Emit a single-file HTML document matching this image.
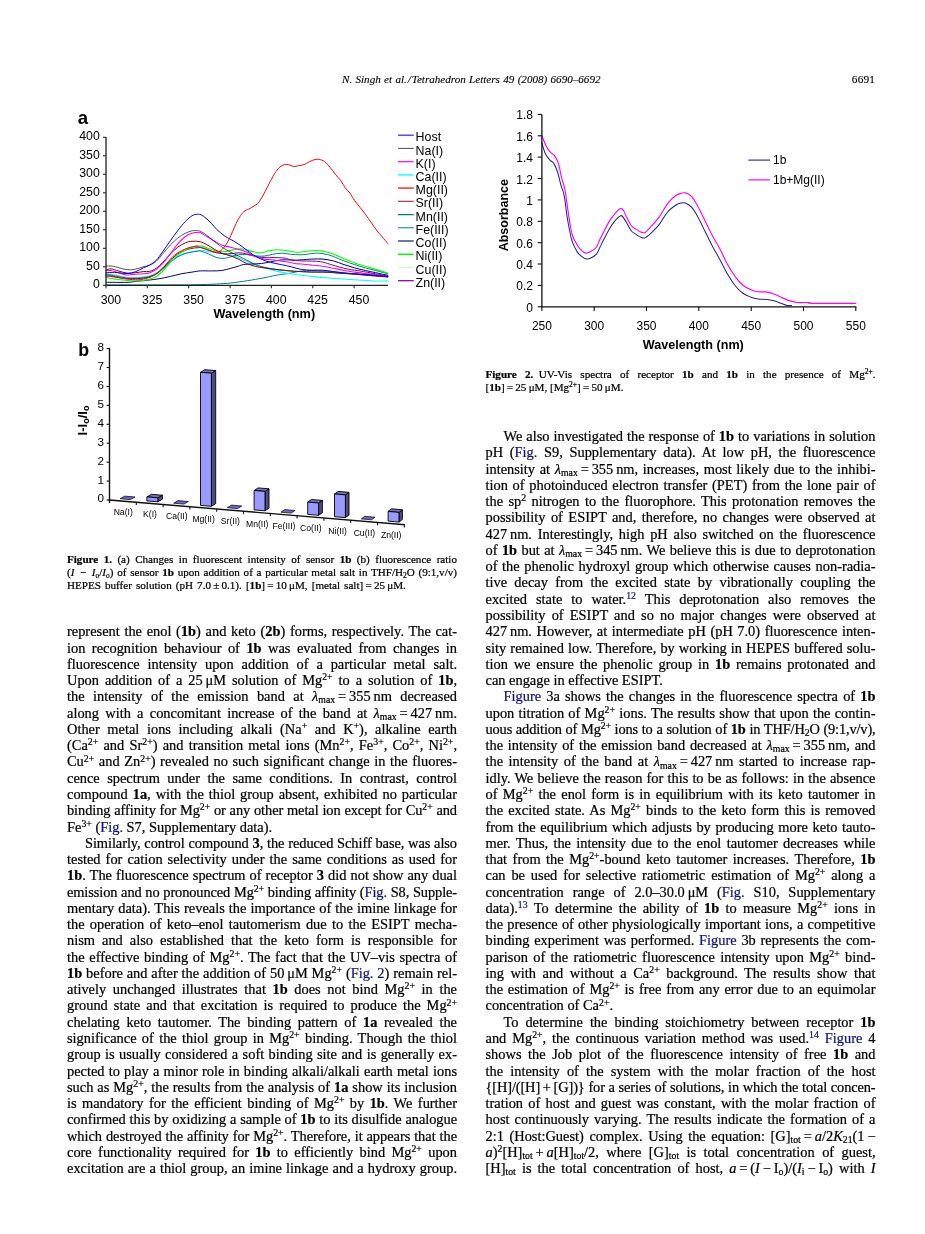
<!DOCTYPE html>
<html><head><meta charset="utf-8"><title>Tetrahedron Letters 49 (2008) 6691</title>
<style>
html,body{margin:0;padding:0;background:#fff;}
body{width:925px;height:1234px;position:relative;overflow:hidden;font-family:"Liberation Serif",serif;color:#000;-webkit-text-stroke-width:0.22px;}
.t,.c,.h{position:absolute;white-space:nowrap;text-align:justify;text-align-last:justify;}
.t{font-size:14.4px;line-height:16.27px;height:16.27px;}
.c{font-size:11.1px;line-height:13.45px;height:13.45px;-webkit-text-stroke-width:0.22px;}
.e{text-align:left;text-align-last:left;}
.h{font-size:11.1px;line-height:13px;text-align-last:left;-webkit-text-stroke-width:0.12px;}
.k{color:#12127c;}
.sp{display:inline-block;width:5.4px;}
sup,sub{font-size:68%;line-height:0;position:relative;vertical-align:baseline;}
sup{top:-0.5em;}
sub{top:0.22em;}
svg{position:absolute;overflow:visible;}
svg text{font-family:"Liberation Sans",sans-serif;fill:#000;}
#w{position:absolute;left:0;top:0;width:925px;height:1234px;will-change:transform;}
</style></head><body><div id="w">
<div class="h" id="hd" style="left:342px;top:72.6px;width:258.5px;text-align-last:justify;"><i>N. Singh et al. / Tetrahedron Letters 49 (2008) 6690–6692</i></div>
<div class="h" id="pg" style="left:851.8px;top:72.9px;font-size:11.3px;letter-spacing:0.2px;">6691</div>
<svg id="ca" style="left:0;top:0" width="470" height="330" viewBox="0 0 470 330">
<g fill="none" stroke-linejoin="round" stroke-linecap="round">
<path d="M106.0 275.0C107.7 275.2 112.4 275.9 115.9 276.4C119.4 276.9 123.4 277.7 127.0 277.9C130.6 278.2 133.8 278.2 137.4 277.9C141.0 277.7 145.5 277.2 148.7 276.4C151.8 275.6 153.9 274.6 156.3 273.1C158.6 271.6 160.4 269.8 162.7 267.6C165.1 265.3 168.0 261.8 170.5 259.4C173.0 257.1 175.3 255.1 177.8 253.5C180.3 251.9 183.0 250.8 185.4 249.8C187.8 248.9 189.8 248.3 192.0 248.0C194.2 247.6 195.9 247.3 198.6 247.6C201.4 247.9 205.5 249.0 208.5 249.8C211.6 250.7 213.8 252.0 216.8 252.8C219.9 253.5 223.2 254.1 226.7 254.3C230.3 254.4 235.0 253.5 238.3 253.5C241.6 253.5 243.7 253.9 246.6 254.3C249.5 254.6 252.7 255.4 255.7 255.7C258.7 256.1 261.6 256.4 264.8 256.5C268.0 256.5 271.1 256.1 274.7 256.1C278.3 256.1 281.9 256.2 286.3 256.5C290.7 256.8 296.8 257.8 301.2 258.0C305.6 258.1 309.2 257.5 312.8 257.6C316.3 257.7 319.3 258.1 322.7 258.7C326.1 259.3 329.7 259.9 333.3 260.9C336.8 261.9 340.6 263.5 344.2 264.6C347.7 265.7 351.0 266.6 354.6 267.6C358.2 268.5 362.2 269.3 365.7 270.2C369.2 271.0 371.9 271.6 375.6 272.4C379.3 273.2 385.8 274.5 387.8 275.0" stroke="#ccffcc" stroke-width="0.9"/>
<path d="M106.0 284.9C117.0 284.9 157.3 285.0 172.2 284.9C187.0 284.9 187.9 284.9 195.3 284.7C202.8 284.6 211.0 284.3 216.8 284.0C222.6 283.7 225.6 283.5 230.1 283.1C234.5 282.6 238.3 282.0 243.3 281.3C248.2 280.6 254.4 279.6 259.8 278.6C265.3 277.7 271.6 276.1 276.0 275.3C280.4 274.5 283.9 274.2 286.3 273.8C288.7 273.5 288.1 273.6 290.6 273.1C293.1 272.6 297.6 271.5 301.2 271.0C304.7 270.6 308.3 270.5 311.9 270.5C315.5 270.5 319.1 270.7 322.7 270.9C326.2 271.1 327.9 271.1 333.3 271.6C338.6 272.1 347.5 273.2 354.6 273.8C361.7 274.5 370.1 274.8 375.6 275.3C381.1 275.8 385.8 276.7 387.8 277.0" stroke="#008080" stroke-width="1.0"/>
<path d="M106.0 273.8C107.7 274.1 112.4 274.8 115.9 275.3C119.4 275.9 123.4 276.8 127.0 277.2C130.6 277.5 133.8 277.7 137.4 277.5C141.0 277.4 145.5 276.8 148.7 276.1C151.8 275.3 153.9 274.4 156.3 273.1C158.6 271.8 160.4 270.2 162.7 268.3C165.1 266.4 168.0 263.6 170.5 261.7C173.0 259.7 175.3 257.9 177.8 256.5C180.3 255.1 183.0 254.0 185.4 253.2C187.8 252.4 190.1 252.0 192.0 251.7C193.9 251.3 195.3 251.2 197.0 250.9C198.6 250.7 199.9 250.1 201.9 250.3C204.0 250.4 206.9 251.4 209.4 251.8C211.9 252.2 214.3 252.4 216.8 252.8C219.3 253.2 221.7 253.7 224.4 254.3C227.1 254.8 230.2 255.1 233.0 255.9C235.9 256.7 238.9 258.1 241.6 259.1C244.3 260.2 246.5 261.3 249.2 262.4C251.9 263.5 254.7 264.6 257.8 265.7C261.0 266.8 264.2 267.8 268.1 268.9C272.0 269.9 277.6 271.3 281.3 272.1C285.1 272.9 287.3 273.3 290.6 273.8C293.9 274.4 297.6 274.9 301.2 275.3C304.7 275.8 308.3 276.1 311.9 276.4C315.5 276.8 319.1 277.2 322.7 277.5C326.2 277.9 327.9 278.0 333.3 278.4C338.6 278.8 347.5 279.3 354.6 279.8C361.7 280.2 370.1 280.8 375.6 281.0C381.1 281.2 385.8 280.9 387.8 280.9" stroke="#00ffff" stroke-width="1.1"/>
<path d="M106.0 282.3C109.5 282.3 121.8 282.5 127.0 282.3C132.2 282.2 133.8 281.6 137.4 281.2C141.0 280.9 145.1 280.5 148.7 280.1C152.3 279.7 155.3 279.4 158.9 278.8C162.6 278.2 166.8 277.3 170.5 276.4C174.2 275.6 177.5 274.6 181.1 273.8C184.7 273.1 188.8 272.6 192.0 272.1C195.2 271.6 197.0 271.1 200.3 270.9C203.5 270.7 207.9 271.0 211.5 270.9C215.1 270.8 218.6 271.0 221.8 270.5C225.0 270.1 228.1 269.0 230.9 268.3C233.6 267.6 236.3 266.8 238.3 266.2C240.4 265.5 240.9 265.0 243.3 264.6C245.6 264.3 249.3 264.2 252.4 264.0C255.4 263.8 258.4 263.9 261.5 263.5C264.5 263.1 267.6 262.4 270.6 261.8C273.5 261.3 276.6 260.5 279.2 260.2C281.8 259.8 283.7 259.8 286.3 259.8C288.8 259.8 292.1 260.2 294.6 260.2C297.0 260.2 298.3 260.0 301.2 259.8C304.1 259.6 308.3 259.3 311.9 259.1C315.5 259.0 319.1 258.8 322.7 259.1C326.2 259.4 329.7 260.0 333.3 260.9C336.8 261.8 340.5 263.4 344.0 264.6C347.6 265.8 351.0 266.9 354.6 267.9C358.2 268.9 361.8 269.7 365.3 270.5C368.8 271.3 371.9 271.9 375.6 272.7C379.4 273.5 385.8 274.9 387.8 275.3" stroke="#000080" stroke-width="1.0"/>
<path d="M106.0 274.2C107.7 274.5 112.4 275.4 115.9 276.1C119.4 276.7 123.4 277.7 127.0 278.1C130.6 278.4 133.8 278.5 137.4 278.3C141.0 278.1 145.5 277.5 148.7 276.8C151.8 276.1 153.9 275.1 156.3 273.8C158.6 272.6 160.4 271.0 162.7 269.0C165.1 267.1 168.0 264.1 170.5 262.0C173.0 260.0 175.3 258.3 177.8 256.8C180.3 255.4 183.0 254.3 185.4 253.5C187.8 252.7 190.1 252.4 192.0 252.0C193.9 251.7 195.6 251.5 197.0 251.3C198.3 251.1 198.3 250.6 200.3 251.0C202.2 251.5 205.8 252.8 208.5 253.9C211.3 255.0 214.2 256.8 216.8 257.6C219.5 258.3 222.2 258.4 224.4 258.3C226.6 258.2 227.7 257.5 230.1 257.0C232.4 256.4 235.6 255.2 238.3 254.8C241.1 254.4 243.7 254.5 246.6 254.6C249.5 254.8 252.8 255.6 255.7 255.9C258.6 256.1 261.3 256.4 264.1 256.1C267.0 255.8 269.9 254.8 272.7 254.3C275.6 253.8 278.3 253.2 281.3 253.2C284.3 253.2 287.3 254.0 290.6 254.3C293.9 254.5 297.6 254.9 301.2 254.8C304.7 254.7 309.1 253.8 311.9 253.5C314.8 253.2 316.0 253.0 318.4 253.2C320.7 253.3 323.5 253.7 326.0 254.3C328.5 254.8 330.3 255.4 333.3 256.5C336.3 257.6 340.5 259.6 344.0 260.9C347.6 262.3 351.0 263.4 354.6 264.6C358.2 265.8 361.8 266.9 365.3 267.9C368.8 268.9 371.9 269.5 375.6 270.5C379.4 271.5 385.8 273.3 387.8 273.8" stroke="#008080" stroke-width="1.0"/>
<path d="M106.0 275.7C107.7 275.9 112.4 276.7 115.9 277.2C119.4 277.7 123.4 278.4 127.0 278.6C130.6 278.9 133.8 278.9 137.4 278.6C141.0 278.4 145.5 278.0 148.7 277.2C151.8 276.4 153.9 275.3 156.3 273.8C158.6 272.4 160.4 270.6 162.7 268.3C165.1 266.0 168.0 262.6 170.5 260.2C173.0 257.8 175.3 255.6 177.8 253.9C180.3 252.2 183.0 251.1 185.4 250.2C187.8 249.3 190.1 248.8 192.0 248.4C193.9 247.9 195.3 247.9 197.0 247.8C198.6 247.7 199.9 247.3 201.9 247.8C204.0 248.3 206.9 249.7 209.4 250.6C211.9 251.4 213.8 252.2 216.8 252.8C219.9 253.3 224.2 253.9 227.7 253.9C231.3 253.9 235.2 252.8 238.3 252.8C241.5 252.8 243.7 253.3 246.6 253.9C249.5 254.5 252.8 255.9 255.7 256.5C258.6 257.1 260.7 257.4 264.1 257.6C267.5 257.8 272.3 257.5 276.0 257.6C279.7 257.7 283.9 258.0 286.3 258.3C288.7 258.7 288.1 259.4 290.6 259.8C293.1 260.2 297.6 260.7 301.2 260.9C304.7 261.1 308.7 261.0 311.9 261.1C315.1 261.2 317.9 261.3 320.5 261.7C323.1 262.1 324.6 262.6 327.6 263.5C330.6 264.4 335.0 265.8 338.6 266.8C342.1 267.8 345.6 268.7 349.1 269.4C352.7 270.1 355.6 270.3 360.1 271.0C364.5 271.8 371.0 273.0 375.6 273.8C380.2 274.7 385.8 275.7 387.8 276.1" stroke="#800080" stroke-width="1.0"/>
<path d="M106.0 277.5C107.7 277.8 112.4 278.6 115.9 279.1C119.4 279.6 123.4 280.2 127.0 280.5C130.6 280.8 133.8 281.1 137.4 280.9C141.0 280.7 145.5 280.1 148.7 279.4C151.8 278.6 153.9 277.8 156.3 276.4C158.6 275.0 160.4 273.4 162.7 271.0C165.1 268.7 168.0 265.1 170.5 262.4C173.0 259.7 175.3 256.9 177.8 254.8C180.3 252.7 183.0 251.2 185.4 249.9C187.8 248.7 190.1 247.9 192.0 247.2C193.9 246.6 195.3 246.3 197.0 246.1C198.6 245.9 200.0 245.8 201.9 246.1C203.9 246.5 206.1 247.5 208.5 248.4C211.0 249.2 214.2 250.5 216.8 251.0C219.5 251.6 221.7 251.9 224.4 251.7C227.1 251.5 230.3 250.4 233.0 249.9C235.7 249.5 238.4 248.9 240.6 248.9C242.9 248.9 244.3 249.4 246.6 249.9C248.9 250.5 252.1 251.6 254.5 252.0C256.9 252.5 258.7 253.0 261.0 252.8C263.2 252.6 265.4 251.5 268.1 251.0C270.8 250.6 274.0 249.9 277.0 249.8C280.1 249.7 283.4 250.2 286.3 250.6C289.2 250.9 292.1 251.8 294.6 252.0C297.0 252.3 298.3 252.3 301.2 252.0C304.1 251.8 309.1 251.0 311.9 250.7C314.8 250.5 316.1 250.4 318.4 250.6C320.7 250.7 323.3 251.1 325.8 251.7C328.3 252.2 330.2 252.7 333.3 253.9C336.3 255.1 340.5 257.2 344.0 258.7C347.6 260.2 351.0 261.7 354.6 262.9C358.2 264.2 361.8 265.1 365.3 266.2C368.9 267.2 372.2 268.3 375.9 269.4C379.7 270.6 385.9 272.5 387.8 273.1" stroke="#00ff00" stroke-width="1.1"/>
<path d="M106.0 270.0C106.8 269.8 108.9 268.7 111.0 268.9C113.0 269.0 115.7 270.3 118.4 271.0C121.1 271.7 124.1 272.8 127.0 273.1C129.9 273.4 133.1 273.0 135.8 272.7C138.5 272.5 140.9 271.9 143.2 271.6C145.6 271.4 147.7 271.8 149.8 271.3C152.0 270.7 154.1 269.8 156.3 268.3C158.4 266.8 160.4 264.8 162.7 262.4C165.1 260.0 168.0 256.4 170.5 253.9C173.0 251.4 175.3 249.1 177.8 247.2C180.3 245.4 183.0 243.8 185.4 242.8C187.8 241.8 189.5 241.5 192.0 241.3C194.5 241.1 197.8 241.1 200.3 241.7C202.8 242.3 204.5 243.4 206.9 244.7C209.3 245.9 212.4 248.0 214.8 249.5C217.3 250.9 219.2 252.1 221.8 253.2C224.3 254.2 227.3 254.8 230.1 255.7C232.8 256.7 235.6 257.8 238.3 259.1C241.1 260.4 243.7 262.3 246.6 263.5C249.5 264.7 252.8 265.7 255.7 266.5C258.6 267.2 260.7 267.4 264.1 267.9C267.5 268.4 272.3 269.0 276.0 269.4C279.7 269.8 283.2 270.2 286.3 270.5C289.4 270.8 292.1 271.1 294.6 271.3C297.0 271.4 298.3 271.5 301.2 271.6C304.1 271.8 308.3 272.0 311.9 272.1C315.5 272.2 319.1 272.0 322.7 272.1C326.2 272.2 327.9 272.4 333.3 272.7C338.6 273.1 347.5 273.7 354.6 274.2C361.7 274.8 370.1 275.6 375.6 276.1C381.1 276.5 385.8 276.8 387.8 277.0" stroke="#800000" stroke-width="1.0"/>
<path d="M106.0 270.5C106.8 270.5 108.9 270.2 111.0 270.5C113.0 270.9 115.7 272.0 118.4 272.7C121.1 273.5 124.1 274.7 127.0 275.0C129.9 275.2 133.1 274.4 135.8 274.2C138.5 274.0 140.9 274.1 143.2 273.8C145.6 273.6 147.7 273.5 149.8 272.7C152.0 272.0 154.1 271.0 156.3 269.4C158.4 267.9 160.4 266.1 162.7 263.5C165.1 260.9 167.8 257.2 170.3 253.9C172.8 250.6 175.3 246.8 177.8 243.9C180.3 241.0 183.0 238.3 185.4 236.5C187.8 234.7 190.1 233.9 192.0 233.2C193.9 232.5 195.6 232.6 197.0 232.5C198.3 232.4 198.6 232.0 200.3 232.6C201.9 233.3 204.5 235.1 206.9 236.5C209.3 238.0 212.4 239.9 214.8 241.3C217.3 242.7 219.2 244.0 221.8 245.0C224.3 246.0 227.3 246.5 230.1 247.2C232.8 247.9 235.6 248.4 238.3 249.2C241.1 250.0 243.7 250.8 246.6 252.0C249.5 253.3 252.8 255.3 255.7 256.5C258.6 257.6 260.7 258.4 264.1 259.1C267.5 259.7 272.3 259.7 276.0 260.2C279.7 260.6 283.2 261.3 286.3 261.8C289.4 262.4 292.1 263.1 294.6 263.5C297.0 263.9 298.3 263.8 301.2 264.0C304.1 264.3 308.3 264.7 311.9 265.1C315.5 265.4 319.1 265.6 322.7 266.2C326.2 266.7 329.7 267.6 333.3 268.3C336.8 269.0 340.5 269.9 344.0 270.5C347.6 271.2 351.0 271.6 354.6 272.1C358.2 272.6 361.8 273.1 365.3 273.5C368.8 273.9 371.9 274.1 375.6 274.6C379.4 275.1 385.8 276.1 387.8 276.4" stroke="#ff00ff" stroke-width="1.1"/>
<path d="M106.0 266.1C107.1 266.1 110.4 265.8 112.6 266.1C114.8 266.4 116.8 267.3 119.2 267.9C121.6 268.5 124.4 269.4 127.0 269.6C129.6 269.9 131.9 269.9 134.6 269.4C137.3 268.9 140.7 267.6 143.2 266.8C145.8 266.1 147.7 265.9 149.8 265.0C152.0 264.1 154.1 263.1 156.3 261.3C158.4 259.4 160.4 256.6 162.7 253.9C165.1 251.2 167.8 247.7 170.3 245.0C172.8 242.4 175.3 240.0 177.8 238.0C180.3 236.0 183.0 234.4 185.4 233.2C187.8 232.0 190.2 231.2 192.0 230.8C193.8 230.4 194.8 230.6 196.1 230.6C197.4 230.6 198.1 230.3 199.8 231.0C201.5 231.7 203.9 233.2 206.2 234.8C208.5 236.5 211.2 239.0 213.5 240.8C215.8 242.6 217.8 244.1 220.1 245.8C222.5 247.4 224.7 248.9 227.7 250.6C230.8 252.3 235.2 254.3 238.3 255.9C241.5 257.5 243.7 258.7 246.6 260.2C249.5 261.6 252.8 263.4 255.7 264.6C258.6 265.8 260.7 266.4 264.1 267.2C267.5 268.0 271.6 268.8 276.0 269.4C280.4 270.1 286.4 270.7 290.6 271.0C294.8 271.4 297.6 271.5 301.2 271.6C304.7 271.8 308.3 271.9 311.9 272.0C315.5 272.1 319.1 271.9 322.7 272.0C326.2 272.1 327.9 272.2 333.3 272.6C338.6 272.9 347.5 273.5 354.6 274.0C361.7 274.6 370.1 275.3 375.6 275.7C381.1 276.1 385.8 276.3 387.8 276.4" stroke="#303030" stroke-width="0.8"/>
<path d="M106.0 272.7C107.4 272.7 111.7 272.3 114.3 272.4C116.9 272.4 119.4 272.9 121.7 273.1C124.0 273.3 125.8 273.7 128.2 273.5C130.5 273.2 133.3 272.6 135.8 271.6C138.3 270.7 140.9 269.0 143.2 267.9C145.6 266.8 147.7 266.3 149.8 265.0C152.0 263.7 154.1 262.4 156.3 260.2C158.4 258.0 160.4 254.9 162.7 251.7C165.1 248.4 167.8 244.3 170.3 240.8C172.8 237.3 175.3 233.8 177.8 230.6C180.3 227.4 183.0 223.8 185.4 221.4C187.8 218.9 190.2 217.0 192.0 215.8C193.8 214.7 194.7 214.5 196.1 214.4C197.6 214.2 199.1 214.0 200.8 214.7C202.5 215.4 204.4 216.9 206.2 218.4C208.0 219.9 209.8 221.7 211.5 223.6C213.3 225.4 214.7 227.5 216.8 229.5C219.0 231.5 222.2 234.2 224.4 235.8C226.6 237.4 227.7 237.8 230.1 239.1C232.4 240.5 235.7 242.2 238.3 243.9C241.0 245.6 243.4 247.6 245.9 249.5C248.4 251.3 250.7 253.2 253.2 254.8C255.7 256.4 258.1 257.8 261.0 259.1C263.9 260.3 267.2 261.5 270.6 262.4C274.0 263.3 277.9 263.9 281.3 264.6C284.8 265.3 287.9 266.0 291.2 266.8C294.6 267.6 297.7 268.9 301.2 269.4C304.6 270.0 308.3 270.0 311.9 270.2C315.5 270.3 319.1 269.9 322.7 270.2C326.2 270.4 329.7 271.1 333.3 271.6C336.8 272.1 340.5 272.7 344.0 273.1C347.6 273.5 349.3 273.5 354.6 273.8C359.9 274.2 370.1 274.9 375.6 275.3C381.1 275.8 385.8 276.2 387.8 276.4" stroke="#0000ff" stroke-width="1.0"/>
<path d="M106.0 276.4C106.8 276.3 108.9 275.7 111.0 275.9C113.0 276.1 115.7 277.0 118.4 277.5C121.1 278.1 123.8 278.8 127.0 279.1C130.3 279.5 134.9 279.8 137.9 279.8C141.0 279.7 143.0 279.2 145.4 278.6C147.7 278.1 149.8 277.5 152.0 276.4C154.2 275.3 156.3 273.9 158.4 272.1C160.6 270.3 162.7 268.1 164.9 265.7C167.0 263.4 169.2 260.2 171.3 258.1C173.5 255.9 175.4 254.3 177.8 252.8C180.1 251.3 183.0 249.9 185.4 248.9C187.8 247.9 190.1 247.3 192.0 246.9C193.9 246.4 195.6 246.1 197.0 246.1C198.3 246.2 198.3 246.6 200.3 247.2C202.2 247.9 206.1 249.1 208.5 249.9C211.0 250.7 212.9 251.9 214.8 252.0C216.8 252.2 218.5 251.9 220.1 251.0C221.7 250.2 223.2 248.4 224.4 246.9C225.7 245.3 226.7 243.8 227.7 241.8C228.8 239.9 229.8 237.8 230.9 235.4C232.0 233.1 232.9 230.5 234.2 227.8C235.4 225.1 236.9 221.7 238.3 219.2C239.8 216.6 241.3 214.3 242.8 212.7C244.2 211.1 245.9 210.3 247.1 209.6C248.3 208.9 248.3 209.5 250.1 208.4C251.8 207.4 255.9 205.0 257.7 203.5C259.5 202.0 259.6 201.2 260.8 199.2C262.1 197.2 263.5 194.7 265.1 191.6C266.7 188.5 268.8 184.1 270.6 180.8C272.4 177.5 274.2 173.9 275.9 171.6C277.5 169.3 278.9 168.0 280.3 166.8C281.8 165.6 283.2 164.9 284.6 164.6C286.1 164.3 287.4 164.5 288.9 164.8C290.4 165.1 292.1 166.4 293.7 166.5C295.3 166.7 296.8 166.0 298.5 165.7C300.3 165.4 302.3 165.2 304.1 164.6C306.0 163.9 307.7 162.6 309.4 161.7C311.2 160.9 313.3 159.9 314.9 159.5C316.5 159.1 317.6 159.1 319.2 159.4C320.8 159.8 322.9 160.3 324.7 161.6C326.5 162.9 328.2 165.2 330.0 167.3C331.7 169.4 333.6 172.0 335.4 174.3C337.2 176.6 339.2 178.6 340.9 180.8C342.5 183.1 343.7 185.7 345.2 187.8C346.7 189.9 348.4 191.0 350.0 193.2C351.6 195.3 352.1 197.1 354.8 200.7C357.4 204.3 362.1 209.9 365.7 214.7C369.3 219.6 373.7 226.2 376.4 229.9C379.1 233.5 380.0 234.2 381.9 236.5C383.8 238.8 386.8 242.4 387.8 243.5" stroke="#ff0000" stroke-width="1.0"/>
</g>
<g stroke="#222" stroke-width="1.3" fill="none">
<path d="M106 137V285.3H388"/>
</g><g stroke="#2a2a2a" stroke-width="1.1">
<path d="M103 137.3H106"/>
<path d="M103 155.8H106"/>
<path d="M103 174.3H106"/>
<path d="M103 192.8H106"/>
<path d="M103 211.3H106"/>
<path d="M103 229.8H106"/>
<path d="M103 248.3H106"/>
<path d="M103 266.8H106"/>
<path d="M103 285.3H106"/>
<path d="M106.0 285.3V288.3"/>
<path d="M147.3 285.3V288.3"/>
<path d="M188.7 285.3V288.3"/>
<path d="M230.1 285.3V288.3"/>
<path d="M271.4 285.3V288.3"/>
<path d="M312.8 285.3V288.3"/>
<path d="M354.1 285.3V288.3"/>
</g>
<g font-size="12.3">
<text x="99.8" y="140.0" text-anchor="end">400</text>
<text x="99.8" y="158.5" text-anchor="end">350</text>
<text x="99.8" y="177.0" text-anchor="end">300</text>
<text x="99.8" y="195.5" text-anchor="end">250</text>
<text x="99.8" y="214.0" text-anchor="end">200</text>
<text x="99.8" y="232.5" text-anchor="end">150</text>
<text x="99.8" y="251.0" text-anchor="end">100</text>
<text x="99.8" y="269.5" text-anchor="end">50</text>
<text x="99.8" y="288.0" text-anchor="end">0</text>
<text x="110.9" y="303.6" text-anchor="middle">300</text>
<text x="152.2" y="303.6" text-anchor="middle">325</text>
<text x="193.6" y="303.6" text-anchor="middle">350</text>
<text x="235.0" y="303.6" text-anchor="middle">375</text>
<text x="276.3" y="303.6" text-anchor="middle">400</text>
<text x="317.6" y="303.6" text-anchor="middle">425</text>
<text x="359.0" y="303.6" text-anchor="middle">450</text>
</g>
<text x="213.4" y="318.4" font-size="12.7" font-weight="bold">Wavelength (nm)</text>
<text x="77.8" y="124.2" font-size="18.5" font-weight="bold">a</text>
<g font-size="12.4">
<path d="M398 135.2H413.7" stroke="#3030ff" stroke-width="1.3"/>
<text x="415.6" y="141.3">Host</text>
<path d="M398 148.4H413.7" stroke="#202020" stroke-width="0.8"/>
<text x="415.6" y="154.5">Na(I)</text>
<path d="M398 161.7H413.7" stroke="#ff00ff" stroke-width="1.2"/>
<text x="415.6" y="167.8">K(I)</text>
<path d="M398 174.9H413.7" stroke="#40ffff" stroke-width="1.8"/>
<text x="415.6" y="181.0">Ca(II)</text>
<path d="M398 188.1H413.7" stroke="#ff5050" stroke-width="1.8"/>
<text x="415.6" y="194.2">Mg(II)</text>
<path d="M398 201.3H413.7" stroke="#903030" stroke-width="1.1"/>
<text x="415.6" y="207.4">Sr(II)</text>
<path d="M398 214.6H413.7" stroke="#008080" stroke-width="1.3"/>
<text x="415.6" y="220.7">Mn(II)</text>
<path d="M398 227.8H413.7" stroke="#008080" stroke-width="1.0"/>
<text x="415.6" y="233.9">Fe(III)</text>
<path d="M398 241.0H413.7" stroke="#000080" stroke-width="1.1"/>
<text x="415.6" y="247.1">Co(II)</text>
<path d="M398 254.3H413.7" stroke="#00ff00" stroke-width="1.5"/>
<text x="415.6" y="260.4">Ni(II)</text>
<path d="M398 267.5H413.7" stroke="#ccffcc" stroke-width="1.2"/>
<text x="415.6" y="273.6">Cu(II)</text>
<path d="M398 280.7H413.7" stroke="#800080" stroke-width="1.2"/>
<text x="415.6" y="286.8">Zn(II)</text>
</g>
</svg>
<svg id="cb" style="left:0;top:330px" width="470" height="220" viewBox="0 330 470 220">
<g stroke="#111" stroke-width="1.4" fill="none" stroke-linecap="square">
<path d="M109.5 348.6V502.3"/>
<path d="M109.5 500.0L404.3 524.7"/>
</g><g stroke="#111" stroke-width="1.1" fill="none">
<path d="M106.6 348.6H109.5"/>
<path d="M106.6 367.5H109.5"/>
<path d="M106.6 386.5H109.5"/>
<path d="M106.6 405.4H109.5"/>
<path d="M106.6 424.3H109.5"/>
<path d="M106.6 443.2H109.5"/>
<path d="M106.6 462.2H109.5"/>
<path d="M106.6 481.1H109.5"/>
<path d="M106.6 500.0H109.5"/>
<path d="M136.3 502.2v2.8"/>
<path d="M163.1 504.5v2.8"/>
<path d="M189.9 506.7v2.8"/>
<path d="M216.7 509.0v2.8"/>
<path d="M243.5 511.2v2.8"/>
<path d="M270.3 513.5v2.8"/>
<path d="M297.1 515.7v2.8"/>
<path d="M323.9 518.0v2.8"/>
<path d="M350.7 520.2v2.8"/>
<path d="M377.5 522.5v2.8"/>
<path d="M404.3 524.7v2.8"/>
</g>
<g stroke="#000" stroke-width="0.9" stroke-linejoin="round">
<path d="M120.1 498.7 L124.8 496.1 L135.1 497.0 L130.4 499.6 Z" fill="#6a6ac8" stroke-width="0.7"/>
<path d="M157.8 497.8 L162.4 495.2 L162.4 499.2 L157.8 501.8 Z" fill="#4d4d80"/>
<path d="M146.9 496.9 L151.5 494.3 L162.4 495.2 L157.8 497.8 Z" fill="#7373bf"/>
<path d="M146.9 496.9 L157.8 497.8 L157.8 501.8 L146.9 500.9 Z" fill="#9999ff"/>
<path d="M173.7 503.2 L178.1 500.6 L188.4 501.5 L184.0 504.1 Z" fill="#6a6ac8" stroke-width="0.7"/>
<path d="M211.4 373.2 L215.7 370.6 L215.7 503.7 L211.4 506.3 Z" fill="#4d4d80"/>
<path d="M200.5 372.3 L204.8 369.7 L215.7 370.6 L211.4 373.2 Z" fill="#7373bf"/>
<path d="M200.5 372.3 L211.4 373.2 L211.4 506.3 L200.5 505.4 Z" fill="#9999ff"/>
<path d="M227.3 507.7 L231.5 505.1 L241.8 506.0 L237.6 508.6 Z" fill="#6a6ac8" stroke-width="0.7"/>
<path d="M265.0 491.4 L269.0 488.8 L269.0 508.2 L265.0 510.8 Z" fill="#4d4d80"/>
<path d="M254.1 490.5 L258.1 487.9 L269.0 488.8 L265.0 491.4 Z" fill="#7373bf"/>
<path d="M254.1 490.5 L265.0 491.4 L265.0 510.8 L254.1 509.9 Z" fill="#9999ff"/>
<path d="M280.9 512.2 L284.8 509.6 L295.1 510.5 L291.2 513.1 Z" fill="#6a6ac8" stroke-width="0.7"/>
<path d="M318.6 503.0 L322.4 500.4 L322.4 512.7 L318.6 515.3 Z" fill="#4d4d80"/>
<path d="M307.7 502.1 L311.5 499.5 L322.4 500.4 L318.6 503.0 Z" fill="#7373bf"/>
<path d="M307.7 502.1 L318.6 503.0 L318.6 515.3 L307.7 514.4 Z" fill="#9999ff"/>
<path d="M345.4 494.9 L349.0 492.3 L349.0 515.0 L345.4 517.6 Z" fill="#4d4d80"/>
<path d="M334.5 494.0 L338.1 491.4 L349.0 492.3 L345.4 494.9 Z" fill="#7373bf"/>
<path d="M334.5 494.0 L345.4 494.9 L345.4 517.6 L334.5 516.7 Z" fill="#9999ff"/>
<path d="M361.3 518.9 L364.8 516.3 L375.1 517.2 L371.6 519.8 Z" fill="#6a6ac8" stroke-width="0.7"/>
<path d="M399.0 512.4 L402.4 509.8 L402.4 519.5 L399.0 522.1 Z" fill="#4d4d80"/>
<path d="M388.1 511.4 L391.5 508.8 L402.4 509.8 L399.0 512.4 Z" fill="#7373bf"/>
<path d="M388.1 511.4 L399.0 512.4 L399.0 522.1 L388.1 521.1 Z" fill="#9999ff"/>
</g>
<g font-size="11.7">
<text x="104" y="351.0" text-anchor="end">8</text>
<text x="104" y="369.9" text-anchor="end">7</text>
<text x="104" y="388.9" text-anchor="end">6</text>
<text x="104" y="407.8" text-anchor="end">5</text>
<text x="104" y="426.7" text-anchor="end">4</text>
<text x="104" y="445.6" text-anchor="end">3</text>
<text x="104" y="464.6" text-anchor="end">2</text>
<text x="104" y="483.5" text-anchor="end">1</text>
<text x="104" y="502.4" text-anchor="end">0</text>
</g>
<g font-size="8.6" fill="#222">
<text x="123.2" y="514.6" text-anchor="middle">Na(I)</text>
<text x="150.0" y="517.0" text-anchor="middle">K(I)</text>
<text x="176.8" y="519.3" text-anchor="middle">Ca(II)</text>
<text x="203.6" y="521.7" text-anchor="middle">Mg(II)</text>
<text x="230.4" y="524.1" text-anchor="middle">Sr(II)</text>
<text x="257.2" y="526.5" text-anchor="middle">Mn(II)</text>
<text x="284.0" y="528.8" text-anchor="middle">Fe(III)</text>
<text x="310.8" y="531.2" text-anchor="middle">Co(II)</text>
<text x="337.6" y="533.6" text-anchor="middle">Ni(II)</text>
<text x="364.4" y="535.9" text-anchor="middle">Cu(II)</text>
<text x="391.2" y="538.3" text-anchor="middle">Zn(II)</text>
</g>
<text x="78.2" y="356.3" font-size="17.8" font-weight="bold">b</text>
<text transform="translate(86.9 435.4) rotate(-90)" font-size="13" font-weight="bold">I-I<tspan font-size="9" dy="2.2">o</tspan><tspan dy="-2.2">/I</tspan><tspan font-size="9" dy="2.2">o</tspan></text>
</svg>
<svg id="cc" style="left:470px;top:95px" width="455" height="265" viewBox="470 95 455 265">
<g fill="none" stroke-linejoin="round" stroke-linecap="round" stroke-width="1.15">
<path d="M541.8 142.6C542.4 144.4 544.0 150.8 545.4 153.7C546.8 156.6 548.5 158.5 549.9 160.1C551.3 161.7 552.5 161.3 553.8 163.4C555.1 165.5 556.5 168.8 557.7 172.5C558.9 176.2 559.9 181.5 561.0 185.4C562.1 189.3 563.2 190.7 564.2 195.8C565.2 200.9 566.1 210.3 567.0 216.0C567.9 221.7 568.6 225.7 569.5 230.0C570.4 234.3 570.9 238.0 572.2 241.7C573.5 245.4 575.8 249.6 577.4 252.1C579.0 254.6 580.5 255.5 581.9 256.6C583.3 257.7 584.5 258.5 585.8 258.8C587.1 259.1 588.0 259.3 589.7 258.6C591.4 257.9 594.5 256.4 596.2 254.4C597.9 252.4 598.8 249.5 600.1 246.9C601.4 244.3 602.5 242.0 604.0 239.1C605.5 236.2 607.4 232.3 609.1 229.4C610.8 226.5 612.6 223.8 614.3 221.6C616.0 219.4 618.2 217.3 619.5 216.4C620.8 215.5 621.0 215.1 622.1 216.0C623.2 216.9 624.5 219.2 626.0 221.6C627.5 224.0 629.5 228.5 631.2 230.7C632.9 232.9 634.7 233.4 636.4 234.6C638.1 235.8 640.1 237.1 641.6 237.6C643.1 238.1 643.8 238.5 645.5 237.6C647.2 236.7 649.7 234.5 652.1 232.2C654.5 229.9 657.2 227.2 659.7 223.9C662.2 220.6 664.7 215.5 667.2 212.5C669.7 209.5 672.5 207.3 674.8 205.7C677.1 204.1 679.1 203.4 680.9 203.0C682.7 202.6 683.6 202.3 685.4 203.0C687.2 203.7 689.5 205.0 691.5 207.2C693.5 209.4 695.2 212.2 697.5 216.3C699.8 220.4 702.6 226.4 705.1 231.5C707.6 236.6 710.1 241.8 712.6 246.6C715.1 251.4 717.7 255.5 720.2 260.2C722.7 264.9 725.3 270.3 727.8 274.6C730.3 278.9 732.9 282.9 735.4 286.0C737.9 289.1 740.4 291.4 742.9 293.2C745.4 295.0 748.0 296.0 750.5 297.0C753.0 298.0 755.4 298.6 758.2 299.0C761.0 299.4 764.4 299.1 767.2 299.4C770.0 299.7 772.5 300.4 774.8 301.0C777.1 301.6 778.9 302.6 780.9 303.3C782.9 304.0 785.1 305.0 786.9 305.4C788.7 305.8 790.7 305.5 791.5 305.5" stroke="#25258c" stroke-width="1.05"/>
<path d="M541.8 135.5C542.5 137.2 544.6 143.1 546.1 145.9C547.6 148.7 549.2 150.8 550.6 152.4C552.0 154.0 553.2 153.8 554.5 155.6C555.8 157.4 557.2 159.7 558.4 163.4C559.6 167.1 560.5 173.4 561.6 177.7C562.7 182.0 563.9 184.2 564.9 189.3C565.9 194.4 566.7 202.1 567.6 208.0C568.5 213.9 569.3 220.2 570.2 225.0C571.1 229.8 571.5 233.0 572.8 236.5C574.1 240.0 576.5 243.8 578.0 246.2C579.5 248.6 580.6 249.7 581.9 250.8C583.2 252.0 584.5 252.9 585.8 253.1C587.1 253.3 588.0 253.0 589.7 252.1C591.4 251.2 594.5 249.7 596.2 247.5C597.9 245.3 598.8 241.8 600.1 239.1C601.4 236.4 602.5 234.2 604.0 231.3C605.5 228.4 607.4 224.4 609.1 221.6C610.8 218.8 612.6 216.6 614.3 214.5C616.0 212.4 618.1 209.8 619.5 209.0C620.9 208.2 621.7 208.4 622.8 209.5C623.9 210.6 624.6 213.1 626.0 215.8C627.4 218.5 629.5 223.2 631.2 225.5C632.9 227.8 634.7 228.2 636.4 229.4C638.1 230.6 640.1 231.9 641.6 232.4C643.1 232.9 643.8 233.4 645.5 232.2C647.2 231.0 649.7 228.1 652.1 225.4C654.5 222.8 657.2 219.8 659.7 216.3C662.2 212.8 664.7 207.5 667.2 204.2C669.7 200.9 672.5 198.1 674.8 196.3C677.1 194.5 679.1 193.9 680.9 193.3C682.7 192.7 683.6 192.4 685.4 192.9C687.2 193.4 689.5 194.2 691.5 196.3C693.5 198.4 695.2 201.6 697.5 205.7C699.8 209.8 702.6 215.8 705.1 220.9C707.6 226.0 710.1 231.2 712.6 236.0C715.1 240.8 717.7 244.8 720.2 249.6C722.7 254.4 725.3 260.2 727.8 264.8C730.3 269.4 732.9 273.5 735.4 276.9C737.9 280.3 740.4 283.1 742.9 285.2C745.4 287.3 748.0 288.4 750.5 289.5C753.0 290.6 755.7 291.4 758.2 291.8C760.7 292.2 763.2 291.6 765.7 291.9C768.2 292.2 770.8 292.8 773.3 293.7C775.8 294.6 778.1 296.0 780.9 297.2C783.7 298.4 787.1 299.9 789.9 300.8C792.7 301.7 794.2 302.2 797.5 302.5C800.8 302.8 807.2 302.4 809.6 302.5C812.0 302.6 804.2 303.2 811.9 303.4C819.6 303.5 848.5 303.4 855.8 303.4" stroke="#ff00ff"/>
</g>
<g stroke="#111" stroke-width="1.3" fill="none">
<path d="M541.9 114.4V306.8H856.4"/>
</g><g stroke="#111" stroke-width="1.1">
<path d="M537.7 306.8H541.9"/>
<path d="M537.7 285.4H541.9"/>
<path d="M537.7 264.0H541.9"/>
<path d="M537.7 242.7H541.9"/>
<path d="M537.7 221.3H541.9"/>
<path d="M537.7 199.9H541.9"/>
<path d="M537.7 178.5H541.9"/>
<path d="M537.7 157.1H541.9"/>
<path d="M537.7 135.8H541.9"/>
<path d="M537.7 114.4H541.9"/>
<path d="M541.9 306.8V311"/>
<path d="M594.2 306.8V311"/>
<path d="M646.5 306.8V311"/>
<path d="M698.8 306.8V311"/>
<path d="M751.2 306.8V311"/>
<path d="M803.5 306.8V311"/>
<path d="M855.8 306.8V311"/>
</g>
<g font-size="12">
<text x="533" y="311.8" text-anchor="end">0</text>
<text x="533" y="290.4" text-anchor="end">0.2</text>
<text x="533" y="269.0" text-anchor="end">0.4</text>
<text x="533" y="247.7" text-anchor="end">0.6</text>
<text x="533" y="226.3" text-anchor="end">0.8</text>
<text x="533" y="204.9" text-anchor="end">1</text>
<text x="533" y="183.5" text-anchor="end">1.2</text>
<text x="533" y="162.1" text-anchor="end">1.4</text>
<text x="533" y="140.8" text-anchor="end">1.6</text>
<text x="533" y="119.4" text-anchor="end">1.8</text>
<text x="541.9" y="329.8" text-anchor="middle">250</text>
<text x="594.2" y="329.8" text-anchor="middle">300</text>
<text x="646.5" y="329.8" text-anchor="middle">350</text>
<text x="698.8" y="329.8" text-anchor="middle">400</text>
<text x="751.2" y="329.8" text-anchor="middle">450</text>
<text x="803.5" y="329.8" text-anchor="middle">500</text>
<text x="855.8" y="329.8" text-anchor="middle">550</text>
</g>
<text x="642.8" y="349.2" font-size="12.6" font-weight="bold">Wavelength (nm)</text>
<text transform="translate(508 251.3) rotate(-90)" font-size="12.5" font-weight="bold">Absorbance</text>
<path d="M748.4 160.1H770.1" stroke="#25258c" stroke-width="1.1"/>
<path d="M748.4 179.9H770.1" stroke="#ff00ff" stroke-width="1.2"/>
<text x="773" y="163.7" font-size="12">1b</text>
<text x="773" y="183.5" font-size="12">1b+Mg(II)</text>
</svg>
<div class="c" id="p0" style="left:67.00px;top:552.53px;width:390.00px;"><b>Figure 1.</b> (a) Changes in fluorescent intensity of sensor <b>1b</b> (b) fluorescence ratio</div>
<div class="c" id="p1" style="left:67.00px;top:565.98px;width:390.00px;">(<i>I</i> − <i>I</i><sub>o</sub>/<i>I</i><sub>o</sub>) of sensor <b>1b</b> upon addition of a particular metal salt in THF/H<sub>2</sub>O (9:1,v/v)</div>
<div class="c e" id="p2" style="left:67.00px;top:579.43px;width:390.00px;word-spacing:1.3px;">HEPES buffer solution (pH 7.0 ± 0.1). [<b>1b</b>] = 10 μM, [metal salt] = 25 μM.</div>
<div class="c" id="q0" style="left:485.50px;top:367.53px;width:390.00px;"><b>Figure 2.</b><span class="sp"></span>UV-Vis spectra of receptor <b>1b</b> and <b>1b</b> in the presence of Mg<sup>2+</sup>.</div>
<div class="c e" id="q1" style="left:485.50px;top:381.08px;width:390.00px;">[<b>1b</b>] = 25 μM, [Mg<sup>2+</sup>] = 50 μM.</div>
<div class="t" id="a0" style="left:67.00px;top:623.25px;width:390.00px;">represent the enol (<b>1b</b>) and keto (<b>2b</b>) forms, respectively. The cat-</div>
<div class="t" id="a1" style="left:67.00px;top:639.52px;width:390.00px;">ion recognition behaviour of <b>1b</b> was evaluated from changes in</div>
<div class="t" id="a2" style="left:67.00px;top:655.79px;width:390.00px;">fluorescence intensity upon addition of a particular metal salt.</div>
<div class="t" id="a3" style="left:67.00px;top:672.06px;width:390.00px;">Upon addition of a 25 μM solution of Mg<sup>2+</sup> to a solution of <b>1b</b>,</div>
<div class="t" id="a4" style="left:67.00px;top:688.34px;width:390.00px;">the intensity of the emission band at <i>λ</i><sub>max</sub> = 355 nm decreased</div>
<div class="t" id="a5" style="left:67.00px;top:704.61px;width:390.00px;">along with a concomitant increase of the band at <i>λ</i><sub>max</sub> = 427 nm.</div>
<div class="t" id="a6" style="left:67.00px;top:720.88px;width:390.00px;">Other metal ions including alkali (Na<sup>+</sup> and K<sup>+</sup>), alkaline earth</div>
<div class="t" id="a7" style="left:67.00px;top:737.14px;width:390.00px;">(Ca<sup>2+</sup> and Sr<sup>2+</sup>) and transition metal ions (Mn<sup>2+</sup>, Fe<sup>3+</sup>, Co<sup>2+</sup>, Ni<sup>2+</sup>,</div>
<div class="t" id="a8" style="left:67.00px;top:753.41px;width:390.00px;">Cu<sup>2+</sup> and Zn<sup>2+</sup>) revealed no such significant change in the fluores-</div>
<div class="t" id="a9" style="left:67.00px;top:769.69px;width:390.00px;">cence spectrum under the same conditions. In contrast, control</div>
<div class="t" id="a10" style="left:67.00px;top:785.96px;width:390.00px;">compound <b>1a</b>, with the thiol group absent, exhibited no particular</div>
<div class="t" id="a11" style="left:67.00px;top:802.23px;width:390.00px;letter-spacing:-0.075px;">binding affinity for Mg<sup>2+</sup> or any other metal ion except for Cu<sup>2+</sup> and</div>
<div class="t e" id="a12" style="left:67.00px;top:818.50px;width:390.00px;">Fe<sup>3+</sup> (<span class="k">Fig.</span> S7, Supplementary data).</div>
<div class="t" id="a13" style="left:85.00px;top:834.76px;width:372.00px;letter-spacing:-0.069px;">Similarly, control compound <b>3</b>, the reduced Schiff base, was also</div>
<div class="t" id="a14" style="left:67.00px;top:851.03px;width:390.00px;">tested for cation selectivity under the same conditions as used for</div>
<div class="t" id="a15" style="left:67.00px;top:867.30px;width:390.00px;"><b>1b</b>. The fluorescence spectrum of receptor <b>3</b> did not show any dual</div>
<div class="t" id="a16" style="left:67.00px;top:883.57px;width:390.00px;letter-spacing:-0.106px;">emission and no pronounced Mg<sup>2+</sup> binding affinity (<span class="k">Fig.</span> S8, Supple-</div>
<div class="t" id="a17" style="left:67.00px;top:899.84px;width:390.00px;">mentary data). This reveals the importance of the imine linkage for</div>
<div class="t" id="a18" style="left:67.00px;top:916.12px;width:390.00px;">the operation of keto–enol tautomerism due to the ESIPT mecha-</div>
<div class="t" id="a19" style="left:67.00px;top:932.38px;width:390.00px;">nism and also established that the keto form is responsible for</div>
<div class="t" id="a20" style="left:67.00px;top:948.65px;width:390.00px;">the effective binding of Mg<sup>2+</sup>. The fact that the UV–vis spectra of</div>
<div class="t" id="a21" style="left:67.00px;top:964.93px;width:390.00px;letter-spacing:-0.005px;"><b>1b</b> before and after the addition of 50 μM Mg<sup>2+</sup> (<span class="k">Fig. 2</span>) remain rel-</div>
<div class="t" id="a22" style="left:67.00px;top:981.20px;width:390.00px;">atively unchanged illustrates that <b>1b</b> does not bind Mg<sup>2+</sup> in the</div>
<div class="t" id="a23" style="left:67.00px;top:997.47px;width:390.00px;">ground state and that excitation is required to produce the Mg<sup>2+</sup></div>
<div class="t" id="a24" style="left:67.00px;top:1013.74px;width:390.00px;">chelating keto tautomer. The binding pattern of <b>1a</b> revealed the</div>
<div class="t" id="a25" style="left:67.00px;top:1030.01px;width:390.00px;">significance of the thiol group in Mg<sup>2+</sup> binding. Though the thiol</div>
<div class="t" id="a26" style="left:67.00px;top:1046.28px;width:390.00px;">group is usually considered a soft binding site and is generally ex-</div>
<div class="t" id="a27" style="left:67.00px;top:1062.55px;width:390.00px;">pected to play a minor role in binding alkali/alkali earth metal ions</div>
<div class="t" id="a28" style="left:67.00px;top:1078.82px;width:390.00px;">such as Mg<sup>2+</sup>, the results from the analysis of <b>1a</b> show its inclusion</div>
<div class="t" id="a29" style="left:67.00px;top:1095.09px;width:390.00px;">is mandatory for the efficient binding of Mg<sup>2+</sup> by <b>1b</b>. We further</div>
<div class="t" id="a30" style="left:67.00px;top:1111.36px;width:390.00px;letter-spacing:-0.044px;">confirmed this by oxidizing a sample of <b>1b</b> to its disulfide analogue</div>
<div class="t" id="a31" style="left:67.00px;top:1127.62px;width:390.00px;letter-spacing:-0.025px;">which destroyed the affinity for Mg<sup>2+</sup>. Therefore, it appears that the</div>
<div class="t" id="a32" style="left:67.00px;top:1143.89px;width:390.00px;">core functionality required for <b>1b</b> to efficiently bind Mg<sup>2+</sup> upon</div>
<div class="t" id="a33" style="left:67.00px;top:1160.16px;width:390.00px;">excitation are a thiol group, an imine linkage and a hydroxy group.</div>
<div class="t" id="b0" style="left:503.50px;top:428.01px;width:372.00px;">We also investigated the response of <b>1b</b> to variations in solution</div>
<div class="t" id="b1" style="left:485.50px;top:444.28px;width:390.00px;">pH (<span class="k">Fig.</span> S9, Supplementary data). At low pH, the fluorescence</div>
<div class="t" id="b2" style="left:485.50px;top:460.56px;width:390.00px;">intensity at <i>λ</i><sub>max</sub> = 355 nm, increases, most likely due to the inhibi-</div>
<div class="t" id="b3" style="left:485.50px;top:476.82px;width:390.00px;">tion of photoinduced electron transfer (PET) from the lone pair of</div>
<div class="t" id="b4" style="left:485.50px;top:493.09px;width:390.00px;">the sp<sup>2</sup> nitrogen to the fluorophore. This protonation removes the</div>
<div class="t" id="b5" style="left:485.50px;top:509.37px;width:390.00px;">possibility of ESIPT and, therefore, no changes were observed at</div>
<div class="t" id="b6" style="left:485.50px;top:525.63px;width:390.00px;">427 nm. Interestingly, high pH also switched on the fluorescence</div>
<div class="t" id="b7" style="left:485.50px;top:541.90px;width:390.00px;">of <b>1b</b> but at <i>λ</i><sub>max</sub> = 345 nm. We believe this is due to deprotonation</div>
<div class="t" id="b8" style="left:485.50px;top:558.17px;width:390.00px;">of the phenolic hydroxyl group which otherwise causes non-radia-</div>
<div class="t" id="b9" style="left:485.50px;top:574.45px;width:390.00px;">tive decay from the excited state by vibrationally coupling the</div>
<div class="t" id="b10" style="left:485.50px;top:590.72px;width:390.00px;">excited state to water.<sup><span class="k">12</span></sup> This deprotonation also removes the</div>
<div class="t" id="b11" style="left:485.50px;top:606.99px;width:390.00px;">possibility of ESIPT and so no major changes were observed at</div>
<div class="t" id="b12" style="left:485.50px;top:623.25px;width:390.00px;">427 nm. However, at intermediate pH (pH 7.0) fluorescence inten-</div>
<div class="t" id="b13" style="left:485.50px;top:639.52px;width:390.00px;">sity remained low. Therefore, by working in HEPES buffered solu-</div>
<div class="t" id="b14" style="left:485.50px;top:655.79px;width:390.00px;">tion we ensure the phenolic group in <b>1b</b> remains protonated and</div>
<div class="t e" id="b15" style="left:485.50px;top:672.06px;width:390.00px;">can engage in effective ESIPT.</div>
<div class="t" id="b16" style="left:503.50px;top:688.33px;width:372.00px;"><span class="k">Figure</span> 3a shows the changes in the fluorescence spectra of <b>1b</b></div>
<div class="t" id="b17" style="left:485.50px;top:704.60px;width:390.00px;">upon titration of Mg<sup>2+</sup> ions. The results show that upon the contin-</div>
<div class="t" id="b18" style="left:485.50px;top:720.88px;width:390.00px;letter-spacing:-0.148px;">uous addition of Mg<sup>2+</sup> ions to a solution of <b>1b</b> in THF/H<sub>2</sub>O (9:1,v/v),</div>
<div class="t" id="b19" style="left:485.50px;top:737.14px;width:390.00px;">the intensity of the emission band decreased at <i>λ</i><sub>max</sub> = 355 nm, and</div>
<div class="t" id="b20" style="left:485.50px;top:753.41px;width:390.00px;">the intensity of the band at <i>λ</i><sub>max</sub> = 427 nm started to increase rap-</div>
<div class="t" id="b21" style="left:485.50px;top:769.69px;width:390.00px;">idly. We believe the reason for this to be as follows: in the absence</div>
<div class="t" id="b22" style="left:485.50px;top:785.96px;width:390.00px;">of Mg<sup>2+</sup> the enol form is in equilibrium with its keto tautomer in</div>
<div class="t" id="b23" style="left:485.50px;top:802.23px;width:390.00px;">the excited state. As Mg<sup>2+</sup> binds to the keto form this is removed</div>
<div class="t" id="b24" style="left:485.50px;top:818.50px;width:390.00px;">from the equilibrium which adjusts by producing more keto tauto-</div>
<div class="t" id="b25" style="left:485.50px;top:834.76px;width:390.00px;">mer. Thus, the intensity due to the enol tautomer decreases while</div>
<div class="t" id="b26" style="left:485.50px;top:851.03px;width:390.00px;">that from the Mg<sup>2+</sup>-bound keto tautomer increases. Therefore, <b>1b</b></div>
<div class="t" id="b27" style="left:485.50px;top:867.30px;width:390.00px;">can be used for selective ratiometric estimation of Mg<sup>2+</sup> along a</div>
<div class="t" id="b28" style="left:485.50px;top:883.57px;width:390.00px;">concentration range of 2.0–30.0 μM (<span class="k">Fig.</span> S10, Supplementary</div>
<div class="t" id="b29" style="left:485.50px;top:899.84px;width:390.00px;">data).<sup><span class="k">13</span></sup> To determine the ability of <b>1b</b> to measure Mg<sup>2+</sup> ions in</div>
<div class="t" id="b30" style="left:485.50px;top:916.11px;width:390.00px;">the presence of other physiologically important ions, a competitive</div>
<div class="t" id="b31" style="left:485.50px;top:932.38px;width:390.00px;">binding experiment was performed. <span class="k">Figure</span> 3b represents the com-</div>
<div class="t" id="b32" style="left:485.50px;top:948.65px;width:390.00px;">parison of the ratiometric fluorescence intensity upon Mg<sup>2+</sup> bind-</div>
<div class="t" id="b33" style="left:485.50px;top:964.92px;width:390.00px;">ing with and without a Ca<sup>2+</sup> background. The results show that</div>
<div class="t" id="b34" style="left:485.50px;top:981.19px;width:390.00px;">the estimation of Mg<sup>2+</sup> is free from any error due to an equimolar</div>
<div class="t e" id="b35" style="left:485.50px;top:997.46px;width:390.00px;">concentration of Ca<sup>2+</sup>.</div>
<div class="t" id="b36" style="left:503.50px;top:1013.74px;width:372.00px;">To determine the binding stoichiometry between receptor <b>1b</b></div>
<div class="t" id="b37" style="left:485.50px;top:1030.01px;width:390.00px;">and Mg<sup>2+</sup>, the continuous variation method was used.<sup><span class="k">14</span></sup> <span class="k">Figure</span> 4</div>
<div class="t" id="b38" style="left:485.50px;top:1046.28px;width:390.00px;">shows the Job plot of the fluorescence intensity of free <b>1b</b> and</div>
<div class="t" id="b39" style="left:485.50px;top:1062.55px;width:390.00px;">the intensity of the system with the molar fraction of the host</div>
<div class="t" id="b40" style="left:485.50px;top:1078.82px;width:390.00px;letter-spacing:-0.123px;">{[H]/([H] + [G])} for a series of solutions, in which the total concen-</div>
<div class="t" id="b41" style="left:485.50px;top:1095.09px;width:390.00px;">tration of host and guest was constant, with the molar fraction of</div>
<div class="t" id="b42" style="left:485.50px;top:1111.36px;width:390.00px;">host continuously varying. The results indicate the formation of a</div>
<div class="t" id="b43" style="left:485.50px;top:1127.62px;width:390.00px;">2:1 (Host:Guest) complex. Using the equation: [G]<sub>tot</sub> = <i>a</i>/2<i>K</i><sub>21</sub>(1 −</div>
<div class="t" id="b44" style="left:485.50px;top:1143.89px;width:390.00px;"><i>a</i>)<sup>2</sup>[H]<sub>tot</sub> + <i>a</i>[H]<sub>tot</sub>/2, where [G]<sub>tot</sub> is total concentration of guest,</div>
<div class="t" id="b45" style="left:485.50px;top:1160.16px;width:390.00px;">[H]<sub>tot</sub> is the total concentration of host, <i>a</i> = (<i>I</i> − I<sub>o</sub>)/(<i>I</i><sub>i</sub> − I<sub>o</sub>) with <i>I</i></div>
</div></body></html>
